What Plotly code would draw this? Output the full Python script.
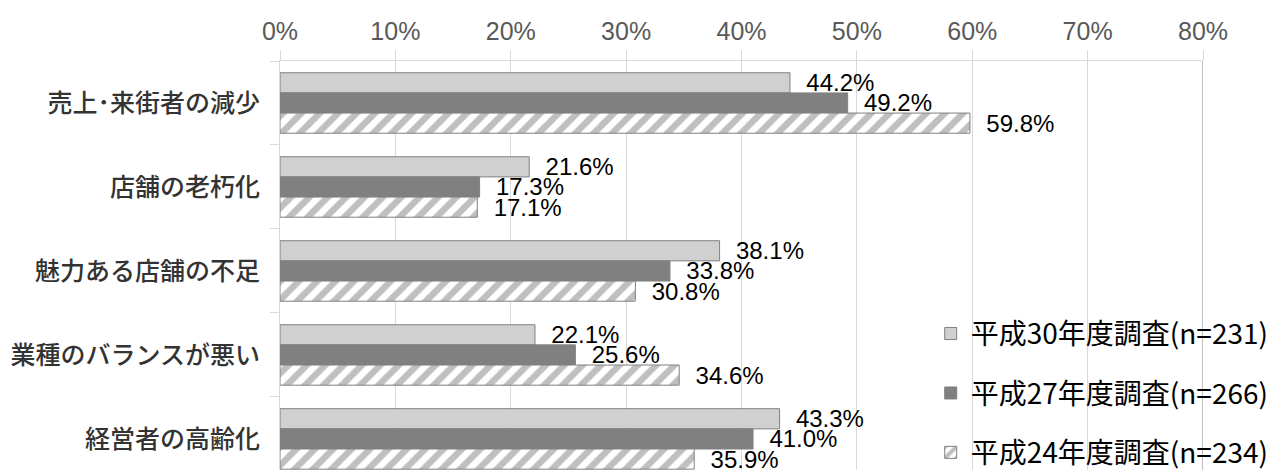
import plotly.graph_objects as go

categories = ["売上･来街者の減少", "店舗の老朽化", "魅力ある店舗の不足", "業種のバランスが悪い", "経営者の高齢化"]
series_names = ["平成30年度調査(n=231)", "平成27年度調査(n=266)", "平成24年度調査(n=234)"]
h30 = [44.2, 21.6, 38.1, 22.1, 43.3]
h27 = [49.2, 17.3, 33.8, 25.6, 41.0]
h24 = [59.8, 17.1, 30.8, 34.6, 35.9]
x_ticks = [0, 10, 20, 30, 40, 50, 60, 70, 80]
X_MAX = 80

values = [h30, h27, h24]
fills = ["#d0d0d0", "#808080", "#ffffff"]
lines = ["#808080", "#808080", "#808080"]

fig = go.Figure()
for i, (name, vals) in enumerate(zip(series_names, values)):
    marker = dict(color=fills[i], line=dict(color=lines[i], width=1))
    if i == 2:
        marker["pattern"] = dict(shape="/", fgcolor="#808080", bgcolor="#ffffff",
                                 size=13, solidity=0.5, fillmode="overlay")
    fig.add_trace(go.Bar(
        y=categories, x=vals, name=name, orientation="h", marker=marker,
        text=[f"{v:.1f}%" for v in vals],
        texttemplate="\u00a0\u00a0%{text}",
        textposition="outside", constraintext="none", cliponaxis=False,
        textfont=dict(family="Liberation Sans, Arial", size=24, color="#000000"),
        legendgroup=f"g{i}",
    ))

fig.add_shape(type="line", xref="x", yref="paper", x0=X_MAX, x1=X_MAX, y0=0, y1=1,
              line=dict(color="#7f7f7f", width=1), layer="above")

fig.update_layout(
    template="none",
    width=1284, height=470,
    margin=dict(l=280, r=81, t=61, b=0, pad=0, autoexpand=False),
    paper_bgcolor="white", plot_bgcolor="white",
    barmode="group", bargap=0.28, bargroupgap=0,
    showlegend=True,
    legend=dict(x=0.705, xanchor="left", y=0.394, yanchor="top",
                font=dict(family="Noto Sans CJK JP", size=28, color="#000000"),
                traceorder="grouped", tracegroupgap=20,
                bgcolor="rgba(0,0,0,0)", itemwidth=30),
    xaxis=dict(side="top", range=[0, X_MAX], tickvals=x_ticks,
               ticktext=[f"{t}%" for t in x_ticks], automargin=False,
               showgrid=True, gridcolor="#d9d9d9", gridwidth=1,
               zeroline=False, showline=True, linecolor="#d9d9d9", linewidth=1,
               ticks="outside", ticklen=10, tickcolor="#d9d9d9",
               tickfont=dict(family="Liberation Sans, Arial", size=25, color="#595959")),
    yaxis=dict(type="category", range=[4.37, -0.5], tickson="boundaries", automargin=False,
               ticks="outside", ticklen=9, tickcolor="#d9d9d9",
               showline=True, linecolor="#d9d9d9", linewidth=1, showgrid=False,
               zeroline=False, ticklabelstandoff=14,
               tickfont=dict(family="Noto Sans CJK JP", size=25, color="#333333", weight=500)),
)

fig.write_html("out.html")
